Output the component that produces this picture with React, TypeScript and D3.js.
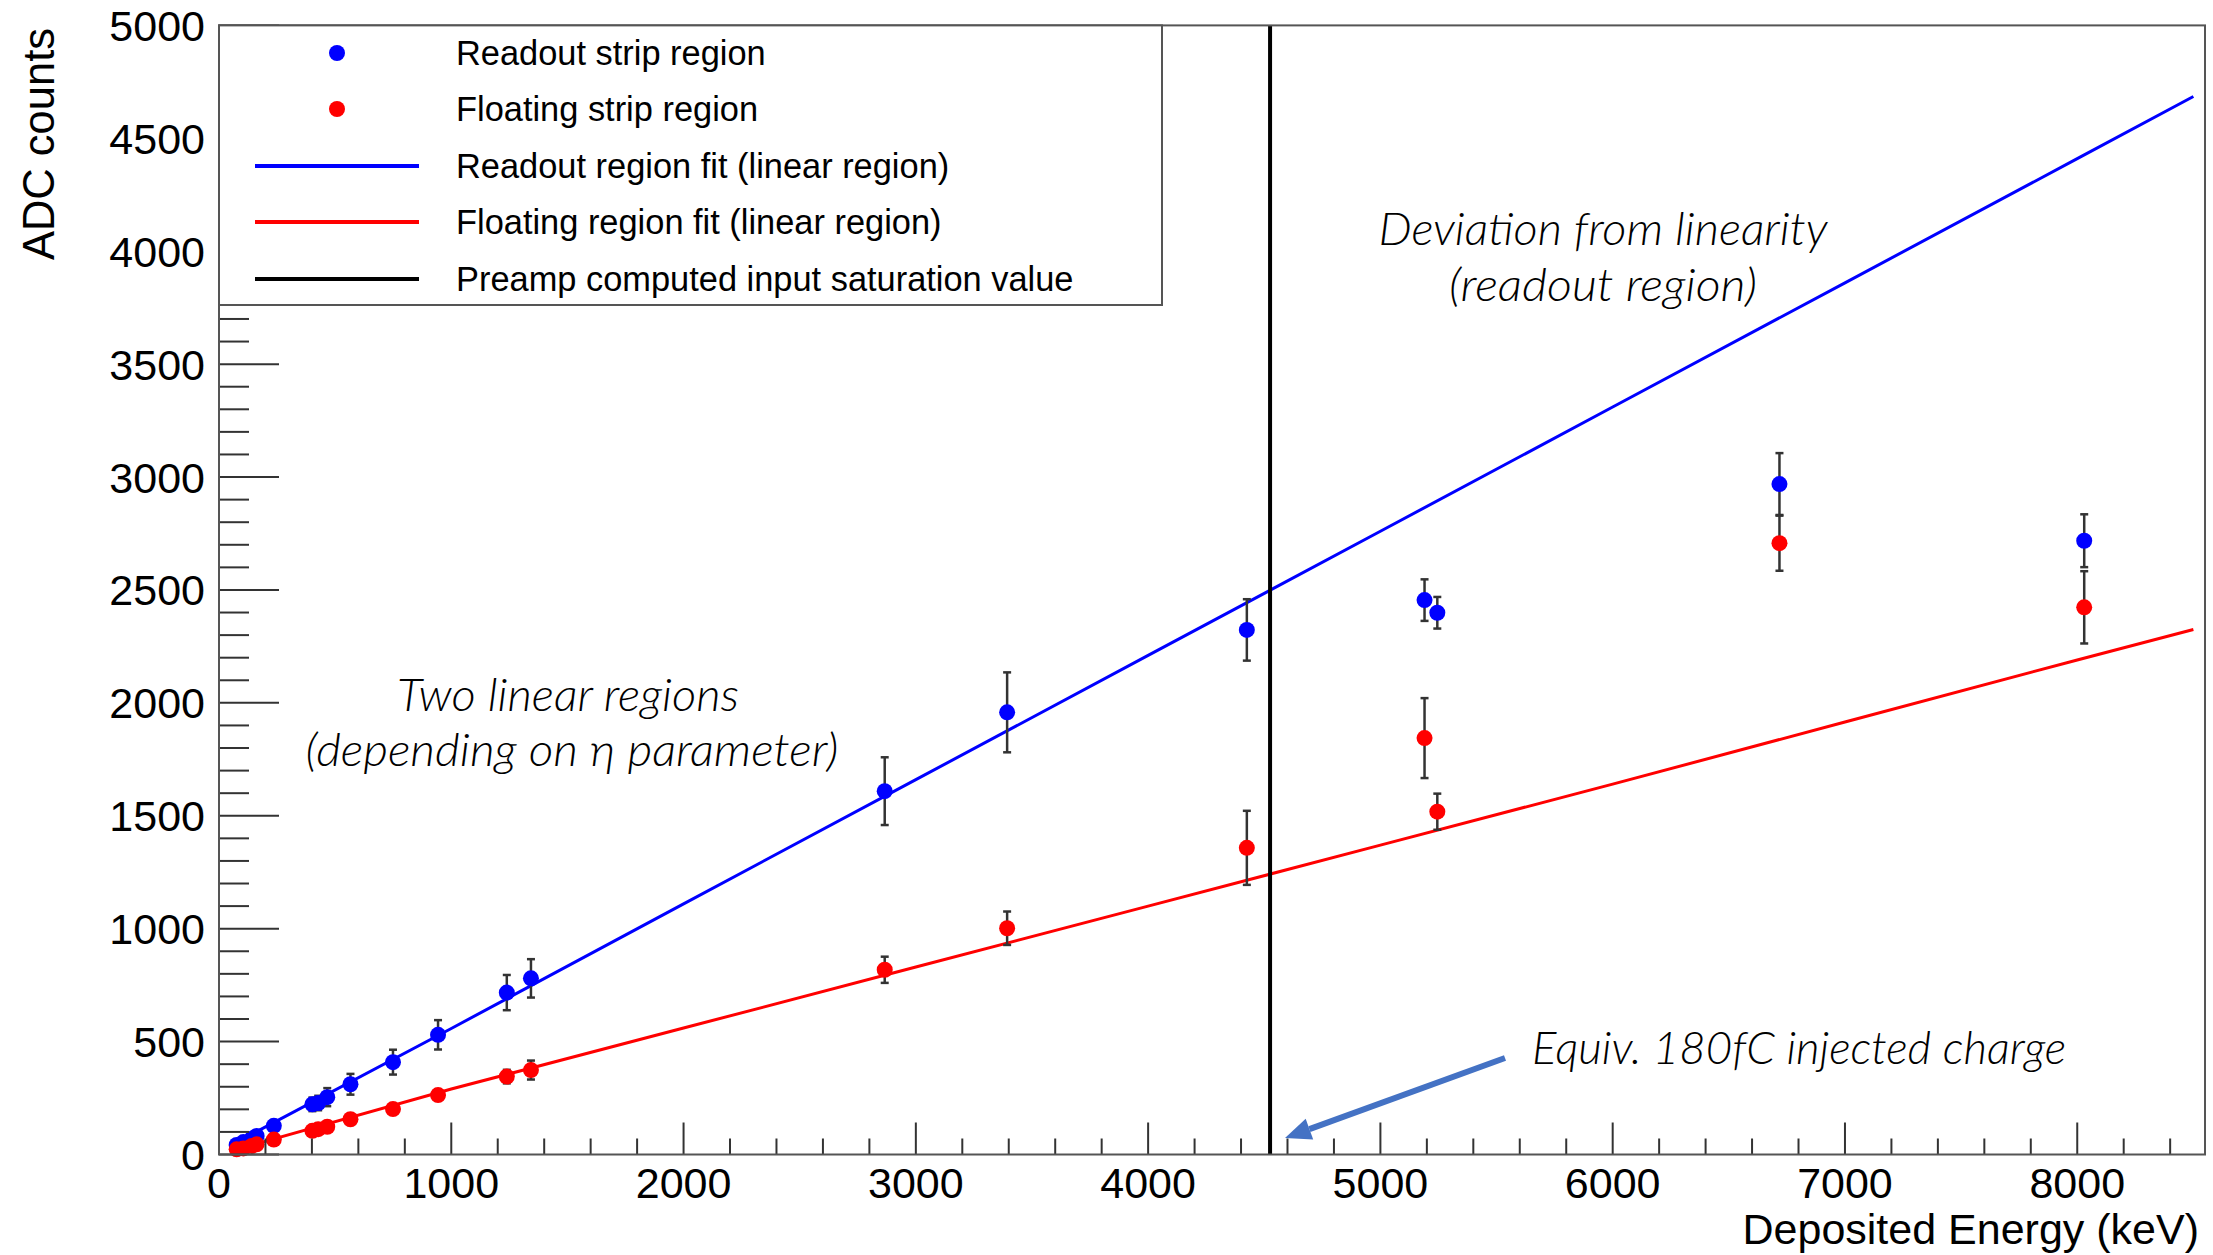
import React, { useEffect } from "react";
import * as d3 from "d3";

// ---- data ----
const energyKeV = [76, 105, 141, 162, 236, 402, 427, 466, 566, 749, 943, 1239, 1343, 2866, 3393, 4425, 5190, 5245, 6718, 8030];
const readoutADC = [42, 55, 70, 82, 127, 222, 228, 254, 311, 409, 530, 717, 780, 1609, 1958, 2323, 2455, 2399, 2969, 2718];
const readoutErr = [8, 10, 12, 12, 18, 30, 32, 40, 46, 55, 65, 78, 85, 150, 177, 136, 92, 70, 137, 117];
const floatingADC = [23, 27, 38, 45, 66, 105, 112, 123, 156, 201, 263, 345, 374, 818, 1002, 1358, 1844, 1518, 2707, 2423];
const floatingErr = [5, 6, 7, 8, 10, 14, 15, 16, 18, 20, 25, 30, 42, 58, 74, 164, 177, 80, 122, 160];

const fitEnergy = [50, 1000, 2000, 3000, 4000, 5000, 6000, 7000, 8000, 8500];
const readoutFit = [40, 558, 1110, 1660, 2210, 2760, 3310, 3860, 4410, 4685];
const floatingFit = [15, 290, 560, 830, 1100, 1370, 1640, 1915, 2190, 2325];

const saturationKeV = 4525;

const xTicks = [0, 1000, 2000, 3000, 4000, 5000, 6000, 7000, 8000];
const yTicks = [0, 500, 1000, 1500, 2000, 2500, 3000, 3500, 4000, 4500, 5000];

const legendLabels = [
  "Readout strip region",
  "Floating strip region",
  "Readout region fit (linear region)",
  "Floating region fit (linear region)",
  "Preamp computed input saturation value",
];

const xTitle = "Deposited Energy (keV)";
const yTitle = "ADC counts";
const noteDeviation = ["Deviation from linearity", "(readout region)"];
const noteTwo = ["Two linear regions", "(depending  on η parameter)"];
const noteEquiv = "Equiv. 180fC injected charge";

export default function App() {
  useEffect(() => {
    document.body.style.margin = "0";
  }, []);

  const W = 2213;
  const H = 1255;
  const left = 219;
  const right = 2205;
  const top = 25.4;
  const bottom = 1154.5;

  const x = d3.scaleLinear().domain([0, 8550]).range([left, right]);
  const y = d3.scaleLinear().domain([0, 5000]).range([bottom, top]);

  const blue = "#0000ff";
  const red = "#ff0000";
  const axisCol = "#333";
  const font = "'Liberation Sans', Arial, Helvetica, sans-serif";
  const noteFont = "Lato, 'Open Sans', sans-serif";

  const line = d3
    .line<[number, number]>()
    .x((d) => x(d[0]))
    .y((d) => y(d[1]));

  const readoutFitPts: [number, number][] = fitEnergy.map((e, i) => [e, readoutFit[i]]);
  const floatingFitPts: [number, number][] = fitEnergy.map((e, i) => [e, floatingFit[i]]);

  const xMinor = d3.range(0, 8551, 200).filter((v) => v % 1000 !== 0);
  const yMinor = d3.range(0, 5001, 100).filter((v) => v % 500 !== 0);

  const legendX0 = left;
  const legendY0 = top;
  const legendX1 = 1162;
  const legendY1 = 305;
  const rowY = [53, 109, 166, 222, 279];

  const errBars = (vals: number[], errs: number[], key: string) =>
    energyKeV.map((e, i) => {
      const cx = x(e);
      const y0 = y(vals[i] - errs[i]);
      const y1 = y(vals[i] + errs[i]);
      return (
        <g key={key + i} stroke="#333" strokeWidth={2.5}>
          <line x1={cx} x2={cx} y1={y0} y2={y1} />
          <line x1={cx - 4} x2={cx + 4} y1={y0} y2={y0} />
          <line x1={cx - 4} x2={cx + 4} y1={y1} y2={y1} />
        </g>
      );
    });

  // arrow
  const ax0 = 1505, ay0 = 1058, ax1 = 1285, ay1 = 1138;
  const ang = Math.atan2(ay1 - ay0, ax1 - ax0);
  const headLen = 26, headW = 11;
  const bx = ax1 - headLen * Math.cos(ang);
  const by = ay1 - headLen * Math.sin(ang);
  const px = -Math.sin(ang), py = Math.cos(ang);

  const noteProps = {
    fontFamily: noteFont,
    fontStyle: "italic" as const,
    fontWeight: 300,
    fontSize: 45,
    fill: "#000",
    lengthAdjust: "spacingAndGlyphs" as const,
  };

  return (
    <div style={{ position: "absolute", left: 0, top: 0 }}>
      <svg width={W} height={H} xmlns="http://www.w3.org/2000/svg" style={{ display: "block", background: "#fff" }}>
        <rect x={0} y={0} width={W} height={H} fill="#fff" />

        {/* fit lines */}
        <path d={line(readoutFitPts) || ""} fill="none" stroke={blue} strokeWidth={3} />
        <path d={line(floatingFitPts) || ""} fill="none" stroke={red} strokeWidth={3} />

        {/* saturation line */}
        <line x1={x(saturationKeV)} x2={x(saturationKeV)} y1={top} y2={bottom} stroke="#000" strokeWidth={4} />

        {/* error bars */}
        {errBars(readoutADC, readoutErr, "be")}
        {errBars(floatingADC, floatingErr, "re")}

        {/* markers */}
        {energyKeV.map((e, i) => (
          <circle key={"bm" + i} cx={x(e)} cy={y(readoutADC[i])} r={8} fill={blue} />
        ))}
        {energyKeV.map((e, i) => (
          <circle key={"rm" + i} cx={x(e)} cy={y(floatingADC[i])} r={8} fill={red} />
        ))}

        {/* axis ticks */}
        {yTicks.map((v) => (
          <line key={"ytM" + v} x1={left} x2={left + 60} y1={y(v)} y2={y(v)} stroke={axisCol} strokeWidth={2} />
        ))}
        {yMinor.map((v) => (
          <line key={"ytm" + v} x1={left} x2={left + 30} y1={y(v)} y2={y(v)} stroke={axisCol} strokeWidth={2} />
        ))}
        {xTicks.map((v) => (
          <line key={"xtM" + v} x1={x(v)} x2={x(v)} y1={bottom} y2={bottom - 32} stroke={axisCol} strokeWidth={2} />
        ))}
        {xMinor.map((v) => (
          <line key={"xtm" + v} x1={x(v)} x2={x(v)} y1={bottom} y2={bottom - 16} stroke={axisCol} strokeWidth={2} />
        ))}

        {/* frame */}
        <rect x={left} y={top} width={right - left} height={bottom - top} fill="none" stroke="#555" strokeWidth={2} />

        {/* legend */}
        <rect x={legendX0} y={legendY0} width={legendX1 - legendX0} height={legendY1 - legendY0} fill="#fff" stroke="#555" strokeWidth={2} />
        <circle cx={337} cy={rowY[0]} r={8} fill={blue} />
        <circle cx={337} cy={rowY[1]} r={8} fill={red} />
        <line x1={255} x2={419} y1={rowY[2]} y2={rowY[2]} stroke={blue} strokeWidth={4} />
        <line x1={255} x2={419} y1={rowY[3]} y2={rowY[3]} stroke={red} strokeWidth={4} />
        <line x1={255} x2={419} y1={rowY[4]} y2={rowY[4]} stroke="#000" strokeWidth={4} />
        {legendLabels.map((t, i) => (
          <text key={"lg" + i} x={456} y={rowY[i] + 12} fontFamily={font} fontSize={34.4} fill="#000">
            {t}
          </text>
        ))}

        {/* tick labels */}
        {yTicks.map((v) => (
          <text key={"yl" + v} x={205} y={y(v) + 15.5} textAnchor="end" fontFamily={font} fontSize={43} fill="#000">
            {v}
          </text>
        ))}
        {xTicks.map((v) => (
          <text key={"xl" + v} x={x(v)} y={1198} textAnchor="middle" fontFamily={font} fontSize={43} fill="#000">
            {v}
          </text>
        ))}

        {/* axis titles */}
        <text x={2199} y={1244} textAnchor="end" fontFamily={font} fontSize={43} fill="#000">
          {xTitle}
        </text>
        <text transform="translate(54,28) rotate(-90)" textAnchor="end" fontFamily={font} fontSize={43.5} fill="#000">
          {yTitle}
        </text>

        {/* annotations */}
        <text x={1603} y={245} textAnchor="middle" textLength={449} {...noteProps}>
          {noteDeviation[0]}
        </text>
        <text x={1603} y={301} textAnchor="middle" textLength={308} {...noteProps}>
          {noteDeviation[1]}
        </text>
        <text x={568} y={711} textAnchor="middle" textLength={342} {...noteProps}>
          {noteTwo[0]}
        </text>
        <text x={572} y={766} textAnchor="middle" textLength={533} {...noteProps}>
          {noteTwo[1]}
        </text>
        <text x={1532} y={1064} textLength={534} {...noteProps}>
          {noteEquiv}
        </text>

        {/* arrow */}
        <line x1={ax0} y1={ay0} x2={bx} y2={by} stroke="#4472c4" strokeWidth={6} />
        <polygon
          points={`${ax1},${ay1} ${bx + px * headW},${by + py * headW} ${bx - px * headW},${by - py * headW}`}
          fill="#4472c4"
        />
      </svg>
    </div>
  );
}
